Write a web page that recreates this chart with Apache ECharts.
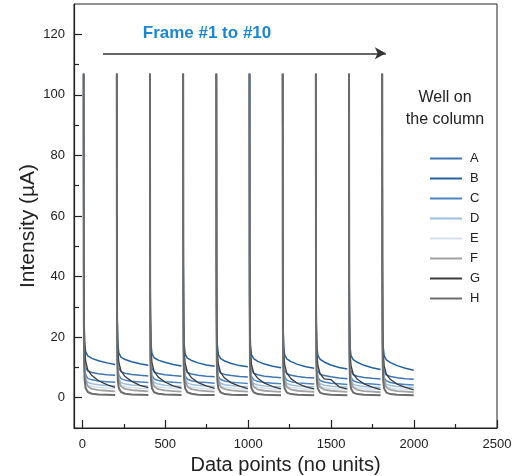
<!DOCTYPE html>
<html>
<head>
<meta charset="utf-8">
<script src="https://cdn.jsdelivr.net/npm/echarts@6/dist/echarts.min.js"></script>
<style>
  html, body { margin: 0; padding: 0; background: #fff; }
  #chart { width: 514px; height: 476px; }
</style>
</head>
<body>
<div id="chart"></div>
<script>
// Wells on the column, in legend order
const wells = ['A', 'B', 'C', 'D', 'E', 'F', 'G', 'H'];

// First data point of each of the 10 frames
const frameStarts = [8, 208, 408, 608, 808, 1008, 1208, 1408, 1608, 1808];
// Sampled positions inside a frame (data points after the frame start)
const frameOffsets = [0, 1, 3, 6, 12, 25, 50, 90, 140, 190];

// Intensity (µA) per well, one row per frame, one value per offset
const wellA = [
  [107, 38, 19.0, 12.5, 10.0, 8.8, 8.3, 7.9, 7.6, 7.4],
  [107, 37, 18.6, 12.2, 9.8, 8.6, 8.1, 7.7, 7.4, 7.2],
  [107, 37, 18.4, 12.0, 9.7, 8.5, 8.0, 7.6, 7.3, 7.1],
  [107, 36, 18.2, 11.8, 9.5, 8.4, 7.8, 7.4, 7.1, 6.9],
  [107, 36, 18.0, 11.6, 9.4, 8.2, 7.7, 7.3, 7.0, 6.8],
  [107, 36, 17.8, 11.4, 9.2, 8.1, 7.6, 7.1, 6.8, 6.6],
  [107, 35, 17.6, 11.2, 9.0, 7.9, 7.4, 7.0, 6.7, 6.5],
  [107, 35, 17.4, 11.0, 8.9, 7.8, 7.3, 6.9, 6.5, 6.3],
  [107, 35, 17.2, 10.8, 8.7, 7.6, 7.1, 6.7, 6.4, 6.2],
  [107, 34, 17.0, 10.6, 8.6, 7.5, 7.0, 6.6, 6.3, 6.1]
];
const wellB = [
  [107, 45, 26, 18.5, 15.2, 13.8, 13.0, 12.2, 11.5, 11.0],
  [107, 44, 25, 18.0, 14.8, 13.4, 12.6, 11.9, 11.2, 10.7],
  [107, 44, 25, 17.8, 14.6, 13.2, 12.4, 11.7, 11.0, 10.5],
  [107, 43, 24, 17.6, 14.4, 13.1, 12.3, 11.5, 10.8, 10.4],
  [107, 43, 24, 17.4, 14.3, 13.0, 12.1, 11.3, 10.6, 10.2],
  [107, 43, 24, 17.2, 14.2, 12.9, 12.0, 11.1, 10.4, 9.9],
  [107, 42, 23, 17.0, 14.1, 12.8, 11.9, 11.0, 10.2, 9.7],
  [107, 42, 23, 16.9, 14.0, 12.7, 11.8, 10.8, 10.0, 9.5],
  [107, 42, 23, 16.8, 13.9, 12.6, 11.7, 10.7, 9.9, 9.3],
  [107, 41, 22, 16.6, 13.8, 12.5, 11.6, 10.6, 9.7, 9.1]
];
const wellC = [
  [107, 35, 16.0, 10.0, 7.6, 6.4, 5.9, 5.5, 5.3, 5.1],
  [107, 35, 15.8, 9.8, 7.5, 6.3, 5.8, 5.4, 5.2, 5.0],
  [107, 34, 15.6, 9.7, 7.4, 6.2, 5.7, 5.3, 5.1, 4.9],
  [107, 34, 15.4, 9.5, 7.2, 6.1, 5.6, 5.2, 5.0, 4.8],
  [107, 34, 15.2, 9.4, 7.1, 6.0, 5.5, 5.1, 4.9, 4.7],
  [107, 33, 15.0, 9.2, 7.0, 5.9, 5.4, 5.0, 4.8, 4.6],
  [107, 33, 14.8, 9.1, 6.9, 5.8, 5.3, 4.9, 4.7, 4.5],
  [107, 33, 14.6, 9.0, 6.8, 5.7, 5.2, 4.8, 4.6, 4.4],
  [107, 32, 14.4, 8.8, 6.7, 5.6, 5.1, 4.7, 4.5, 4.3],
  [107, 32, 14.2, 8.7, 6.6, 5.5, 5.0, 4.6, 4.4, 4.2]
];
const wellD = [
  [107, 33, 14.5, 8.8, 6.4, 5.1, 4.6, 4.3, 4.0, 3.9],
  [107, 33, 14.3, 8.7, 6.3, 5.0, 4.5, 4.2, 4.0, 3.9],
  [107, 32, 14.1, 8.6, 6.2, 5.0, 4.5, 4.1, 3.9, 3.8],
  [107, 32, 14.0, 8.5, 6.1, 4.9, 4.4, 4.1, 3.9, 3.8],
  [107, 32, 13.8, 8.4, 6.0, 4.8, 4.3, 4.0, 3.8, 3.7],
  [107, 31, 13.7, 8.3, 5.9, 4.7, 4.2, 3.9, 3.7, 3.6],
  [107, 31, 13.5, 8.2, 5.9, 4.7, 4.2, 3.9, 3.7, 3.6],
  [107, 31, 13.4, 8.1, 5.8, 4.6, 4.1, 3.8, 3.6, 3.5],
  [107, 30, 13.2, 8.0, 5.7, 4.5, 4.0, 3.7, 3.5, 3.4],
  [107, 30, 13.0, 7.9, 5.6, 4.5, 4.0, 3.7, 3.5, 3.4]
];
const wellE = [
  [107, 31, 13.0, 7.8, 5.5, 4.2, 3.7, 3.4, 3.2, 3.1],
  [107, 31, 12.9, 7.7, 5.4, 4.1, 3.6, 3.3, 3.1, 3.0],
  [107, 30, 12.8, 7.6, 5.3, 4.1, 3.6, 3.3, 3.1, 3.0],
  [107, 30, 12.7, 7.5, 5.3, 4.0, 3.5, 3.2, 3.0, 2.9],
  [107, 30, 12.6, 7.4, 5.2, 4.0, 3.5, 3.2, 3.0, 2.9],
  [107, 30, 12.5, 7.3, 5.1, 3.9, 3.4, 3.1, 2.9, 2.8],
  [107, 29, 12.4, 7.2, 5.1, 3.9, 3.4, 3.1, 2.9, 2.8],
  [107, 29, 12.3, 7.2, 5.0, 3.8, 3.3, 3.0, 2.9, 2.8],
  [107, 29, 12.1, 7.1, 5.0, 3.8, 3.3, 3.0, 2.8, 2.7],
  [107, 29, 12.0, 7.0, 4.9, 3.7, 3.2, 2.9, 2.8, 2.7]
];
const wellF = [
  [107, 40, 18.0, 10.0, 6.0, 3.8, 2.9, 2.5, 2.3, 2.1],
  [107, 40, 17.9, 9.9, 5.9, 3.8, 2.9, 2.5, 2.3, 2.1],
  [107, 39, 17.8, 9.9, 5.9, 3.7, 2.8, 2.4, 2.2, 2.0],
  [107, 39, 17.7, 9.8, 5.8, 3.7, 2.8, 2.4, 2.2, 2.0],
  [107, 39, 17.6, 9.7, 5.8, 3.6, 2.8, 2.4, 2.2, 2.0],
  [107, 39, 17.5, 9.7, 5.7, 3.6, 2.7, 2.3, 2.1, 1.9],
  [107, 38, 17.4, 9.6, 5.7, 3.5, 2.7, 2.3, 2.1, 1.9],
  [107, 38, 17.3, 9.5, 5.6, 3.5, 2.7, 2.3, 2.1, 1.9],
  [107, 38, 17.1, 9.5, 5.6, 3.4, 2.6, 2.2, 2.0, 1.8],
  [107, 38, 17.0, 9.4, 5.5, 3.4, 2.6, 2.2, 2.0, 1.8]
];
const wellG = [
  [107, 50, 28, 17.0, 12.2, 9.2, 7.3, 5.6, 4.3, 3.4],
  [107, 49, 27, 16.5, 11.8, 8.9, 7.0, 5.4, 4.1, 3.3],
  [107, 49, 27, 16.3, 11.6, 8.7, 6.8, 5.2, 3.9, 3.2],
  [107, 48, 26, 16.0, 11.4, 8.5, 6.6, 5.0, 3.9, 3.1],
  [107, 48, 26, 15.8, 11.2, 8.4, 6.5, 4.9, 3.8, 3.0],
  [107, 48, 26, 15.6, 11.0, 8.2, 6.4, 4.8, 3.7, 2.9],
  [107, 47, 25, 15.4, 10.9, 8.1, 6.3, 4.7, 3.6, 2.9],
  [107, 47, 25, 15.2, 10.8, 8.0, 6.2, 6.0, 3.6, 2.8],
  [107, 47, 25, 15.0, 10.6, 7.9, 6.1, 4.6, 3.5, 2.7],
  [107, 46, 24, 14.8, 10.5, 7.8, 6.0, 4.5, 3.4, 2.6]
];
const wellH = [
  [107, 30, 12.0, 6.0, 3.2, 1.9, 1.3, 1.1, 1.0, 0.9],
  [107, 30, 12.0, 6.0, 3.2, 1.9, 1.3, 1.1, 1.0, 0.9],
  [107, 30, 11.9, 5.9, 3.1, 1.8, 1.3, 1.1, 1.0, 0.9],
  [107, 30, 11.9, 5.9, 3.1, 1.8, 1.3, 1.0, 0.9, 0.9],
  [107, 30, 11.8, 5.8, 3.1, 1.8, 1.2, 1.0, 0.9, 0.9],
  [107, 29, 11.8, 5.8, 3.1, 1.8, 1.2, 1.0, 0.9, 0.8],
  [107, 29, 11.7, 5.7, 3.0, 1.7, 1.2, 1.0, 0.9, 0.8],
  [107, 29, 11.7, 5.7, 3.0, 1.7, 1.2, 1.0, 0.9, 0.8],
  [107, 29, 11.6, 5.6, 3.0, 1.7, 1.2, 1.0, 0.9, 0.8],
  [107, 29, 11.5, 5.6, 3.0, 1.7, 1.2, 1.0, 0.9, 0.8]
];
const wellValues = [wellA, wellB, wellC, wellD, wellE, wellF, wellG, wellH];

// Axis ticks
const xMajorTicks = [0, 500, 1000, 1500, 2000, 2500];
const xMinorTicks = [250, 750, 1250, 1750, 2250];
const yMajorTicks = [0, 20, 40, 60, 80, 100, 120];
const yMinorTicks = [-10, 10, 30, 50, 70, 90, 110];

// Arrow annotation across the frames
const arrowFrom = [125, 113.7];
const arrowTo = [1830, 113.7];

const lineColors = ['#3f75b3', '#23609f', '#4a84c3', '#9dbfdf', '#d3e0ee', '#a2a2a2', '#3c3c3c', '#6c6c6c'];
const lineWidths = [1.5, 1.5, 1.5, 1.5, 1.5, 1.8, 1.3, 2];

// Turn frame rows into [x, y] pairs, with a break between frames
function frameData(rows) {
  const out = [];
  rows.forEach(function (row, k) {
    row.forEach(function (v, i) {
      out.push([frameStarts[k] + frameOffsets[i], v]);
    });
    out.push([frameStarts[k] + frameOffsets[frameOffsets.length - 1] + 1, '-']);
  });
  return out;
}

const FONT = '"Liberation Sans", Arial, Helvetica, sans-serif';
const chart = echarts.init(document.getElementById('chart'), null, { renderer: 'canvas' });

const series = wells.map(function (name, i) {
  const s = {
    name: name,
    type: 'line',
    data: frameData(wellValues[i]),
    symbol: 'none',
    connectNulls: false,
    animation: false,
    color: lineColors[i],
    lineStyle: { color: lineColors[i], width: lineWidths[i] },
    xAxisIndex: 0,
    yAxisIndex: 0
  };
  if (name === 'H') {
    s.markLine = {
      silent: true,
      animation: false,
      symbol: ['none', 'arrow'],
      symbolSize: [9, 11],
      label: { show: false },
      lineStyle: { color: '#333', width: 1.5, type: 'solid' },
      data: [[{ coord: arrowFrom }, { coord: arrowTo }]]
    };
  }
  return s;
});

const axisText = {
  color: '#222', fontSize: 13, fontFamily: FONT,
  formatter: function (v) { return String(v); }
};
const tickStyle = { color: '#222', width: 1.2 };

chart.setOption({
  animation: false,
  backgroundColor: '#fff',
  grid: {
    left: 74, top: 4, width: 423, height: 424,
    outerBoundsMode: 'none', containLabel: false,
    show: true, borderColor: '#222', borderWidth: 1, backgroundColor: 'transparent'
  },
  xAxis: [{
    type: 'value', min: -50, max: 2500,
    name: 'Data points (no units)', nameLocation: 'middle', nameGap: 27,
    nameTextStyle: { color: '#222', fontSize: 20, fontFamily: FONT },
    axisLine: { show: true, onZero: false, lineStyle: tickStyle },
    axisTick: { show: true, inside: true, length: 8, customValues: xMajorTicks, lineStyle: tickStyle },
    axisLabel: { show: true, customValues: xMajorTicks, margin: 10, ...axisText },
    splitLine: { show: false }
  }, {
    type: 'value', min: -50, max: 2500, position: 'bottom',
    axisLine: { show: false, onZero: false },
    axisTick: { show: true, inside: true, length: 4, customValues: xMinorTicks, lineStyle: tickStyle },
    axisLabel: { show: false },
    splitLine: { show: false }
  }],
  yAxis: [{
    type: 'value', min: -10, max: 130,
    axisLine: { show: true, onZero: false, lineStyle: tickStyle },
    axisTick: { show: true, inside: true, length: 8, customValues: yMajorTicks, lineStyle: tickStyle },
    axisLabel: { show: true, customValues: yMajorTicks, margin: 9, ...axisText },
    splitLine: { show: false }
  }, {
    type: 'value', min: -10, max: 130, position: 'left',
    axisLine: { show: false, onZero: false },
    axisTick: { show: true, inside: true, length: 5, customValues: yMinorTicks, lineStyle: tickStyle },
    axisLabel: { show: false },
    splitLine: { show: false }
  }],
  legend: {
    data: wells,
    orient: 'vertical',
    left: 425, top: 147,
    itemWidth: 32, itemHeight: 14, itemGap: 7,
    icon: 'path://M0,6 L32,6 L32,8 L0,8 Z',
    textStyle: { color: '#222', fontSize: 13, fontFamily: FONT, padding: [0, 0, 0, 3] },
    selectedMode: false
  },
  graphic: [{
    type: 'text', x: 207, y: 33,
    style: { text: 'Frame #1 to #10', fill: '#1b87d2', font: 'bold 17px ' + FONT, align: 'center', verticalAlign: 'middle' }
  }, {
    type: 'text', x: 445, y: 109,
    style: { text: 'Well on\nthe column', fill: '#222', font: '16px ' + FONT, align: 'center', verticalAlign: 'middle', lineHeight: 22 }
  }, {
    // y-axis title, rotated to read bottom-to-top
    type: 'text', x: 28, y: 226, rotation: Math.PI / 2,
    style: { text: 'Intensity (µA)', fill: '#222', font: '21px ' + FONT, align: 'center', verticalAlign: 'middle' }
  }],
  series: series
});
</script>
</body>
</html>
